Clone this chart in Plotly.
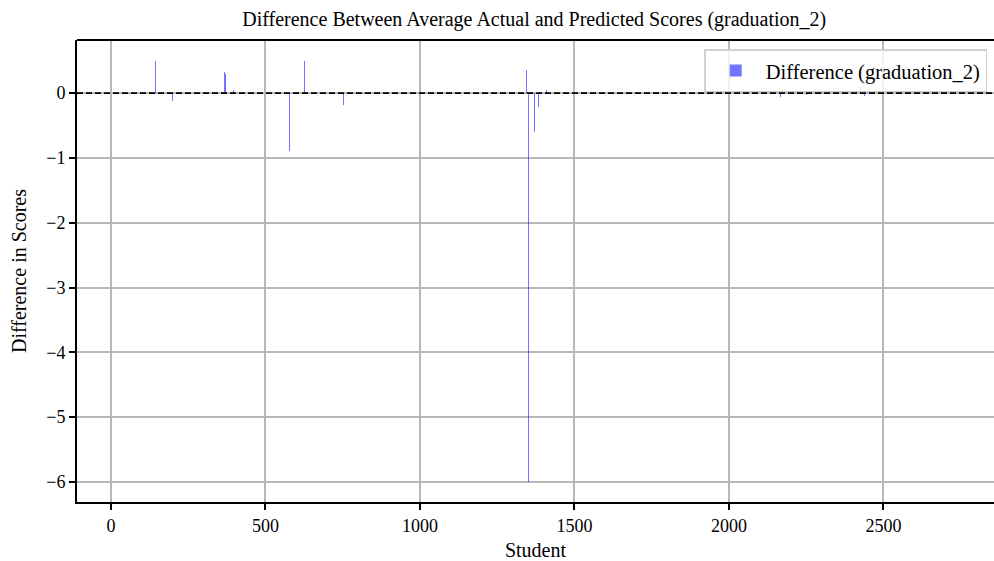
import plotly.graph_objects as go

# Sparse non-zero differences (all other students are ~0)
students = [60, 145, 200, 250, 366, 372, 398, 579, 625, 754, 820, 1340, 1345, 1350, 1372, 1383, 1411,
            1650, 1800, 1950, 2168, 2250, 2300, 2427, 2440]
differences = [-0.02, 0.50, -0.12, 0.02, 0.32, 0.30, 0.05, -0.90, 0.50, -0.19, -0.02, -0.80, 0.36, -6.00, -0.60, -0.22, 0.05,
               0.01, -0.02, 0.02, -0.06, -0.03, 0.03, 0.10, -0.04]
series_name = "Difference (graduation_2)"
x_ticks = [0, 500, 1000, 1500, 2000, 2500]
y_ticks = [0, -1, -2, -3, -4, -5, -6]

font_family = "Liberation Serif"

fig = go.Figure()
fig.add_trace(go.Bar(
    x=students, y=differences, name=series_name,
    width=3.2, marker=dict(color="rgba(0,0,255,0.55)", line=dict(width=0)),
))

fig.add_hline(y=0, line=dict(color="black", width=1.8, dash="6px,3px"))
# top spine
fig.add_shape(type="line", xref="paper", yref="paper", x0=0, x1=1, y0=1, y1=1,
              line=dict(color="black", width=1.8))

fig.update_layout(
    width=994, height=561,
    margin=dict(l=77, r=0, t=40, b=59),
    paper_bgcolor="white", plot_bgcolor="white",
    font=dict(family=font_family, size=18, color="black"),
    title=dict(text="Difference Between Average Actual and Predicted Scores (graduation_2)",
               x=0.5375, xanchor="center", y=0.967, yanchor="middle",
               font=dict(size=20, family=font_family)),
    showlegend=True,
    legend=dict(x=0.684, xanchor="left", y=0.98, yanchor="top",
                bgcolor="rgba(255,255,255,0.8)", bordercolor="#d0d0d0", borderwidth=1.5,
                itemwidth=50,
                font=dict(size=20.5, family=font_family)),
    bargap=0,
)
fig.update_xaxes(range=[-110, 2858], tickvals=x_ticks, ticktext=[str(v) for v in x_ticks],
                 showgrid=True, gridcolor="#b8b8b8", gridwidth=1.8,
                 showline=True, linecolor="black", linewidth=1.8,
                 ticks="outside", ticklen=6, tickwidth=1.8, tickcolor="black",
                 zeroline=False,
                 title=dict(text="Student", font=dict(size=20, family=font_family), standoff=9),
                 tickfont=dict(size=18, family=font_family))
fig.update_yaxes(range=[-6.31, 0.82], tickvals=y_ticks, ticktext=["0" if v == 0 else "\u2212" + str(-v) for v in y_ticks],
                 showgrid=True, gridcolor="#b8b8b8", gridwidth=1.8,
                 showline=True, linecolor="black", linewidth=1.8,
                 ticks="outside", ticklen=6, tickwidth=1.8, tickcolor="black",
                 zeroline=False,
                 title=dict(text="Difference in Scores", font=dict(size=20, family=font_family), standoff=14),
                 tickfont=dict(size=18, family=font_family))

fig.write_html("out.html", config={"displayModeBar": False},
               post_script="document.body.style.margin='0';window.dispatchEvent(new Event('resize'));")
